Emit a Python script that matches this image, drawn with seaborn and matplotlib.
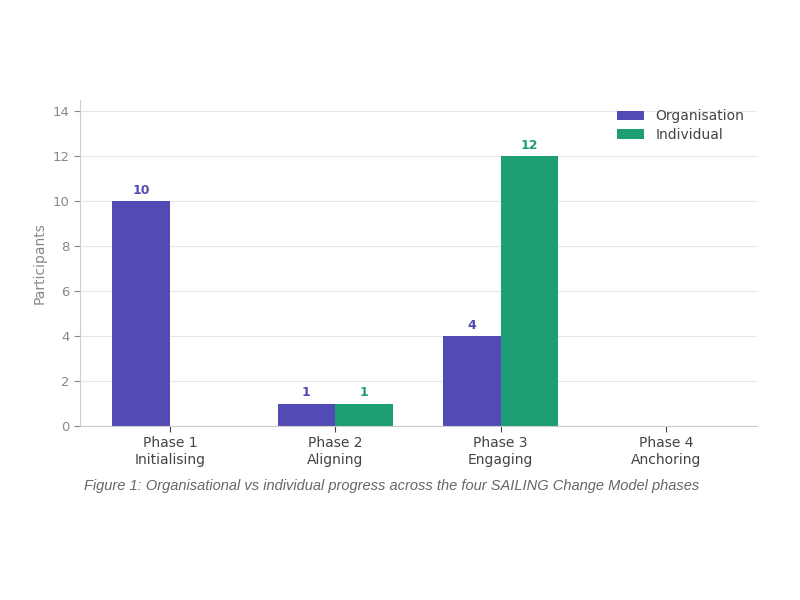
import pandas as pd
import matplotlib.pyplot as plt
import seaborn as sns

# Chart data
phases = ["Phase 1\nInitialising", "Phase 2\nAligning", "Phase 3\nEngaging", "Phase 4\nAnchoring"]
organisation = [10, 1, 4, 0]
individual = [0, 1, 12, 0]
groups = ["Organisation", "Individual"]
colors = ["#524bb5", "#1e9e74"]

df = pd.DataFrame({
    "phase": phases * 2,
    "count": organisation + individual,
    "group": [groups[0]] * len(phases) + [groups[1]] * len(phases),
})

sns.set_theme(style="white")
plt.rcParams["font.family"] = ["DejaVu Sans"]

fig = plt.figure(figsize=(8, 6), dpi=100)
ax = fig.add_axes([0.1, 0.29, 0.846, 0.543])

sns.barplot(data=df, x="phase", y="count", hue="group", palette=colors,
            width=0.7, saturation=1, edgecolor="none", ax=ax)

# value labels above non-zero bars
for cont, col in zip(ax.containers, colors):
    labels = [f"{int(v)}" if v > 0 else "" for v in cont.datavalues]
    ax.bar_label(cont, labels=labels, padding=3, color=col,
                 fontweight="bold", fontsize=9)

ax.set_xlim(-0.545, 3.55)
ax.set_ylim(0, 14.5)
ax.set_yticks(range(0, 15, 2))
ax.set_xlabel("")
ax.set_ylabel("Participants", color="#888888", fontsize=10)
ax.yaxis.grid(True, color="#e6e6e6", linewidth=0.8)
ax.set_axisbelow(True)
ax.tick_params(axis="y", colors="#888888", labelsize=9.5, length=4, width=0.8, left=True)
ax.tick_params(axis="x", colors="#444444", labelsize=10, length=4, width=0.8, bottom=True)
sns.despine(ax=ax)
for s in ["left", "bottom"]:
    ax.spines[s].set_color("#cccccc")
    ax.spines[s].set_linewidth(0.8)

leg = ax.legend(loc="upper right", frameon=False, fontsize=10,
                labelspacing=0.3, bbox_to_anchor=(1.0, 1.01))
for t in leg.get_texts():
    t.set_color("#444444")

fig.text(0.49, 0.19,
         "Figure 1: Organisational vs individual progress across the four SAILING Change Model phases",
         ha="center", va="center", fontsize=10.5, style="italic", color="#666666",
         family=["Liberation Sans", "DejaVu Sans"])

fig.savefig("out.png", dpi=100)
